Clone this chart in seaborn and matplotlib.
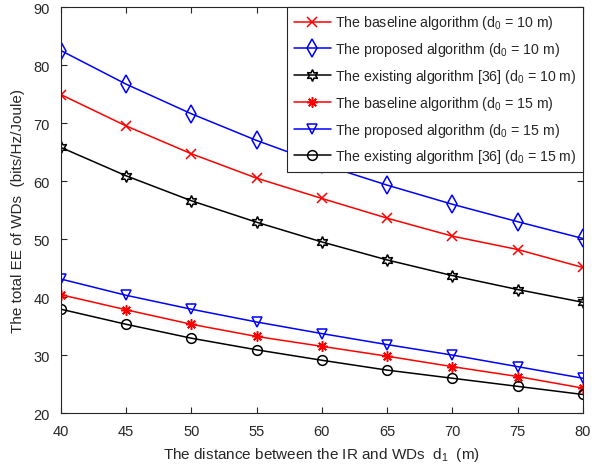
import matplotlib
matplotlib.use("Agg")
import matplotlib.pyplot as plt
import numpy as np
import seaborn as sns

# distance d1 (m)
d1 = [40, 45, 50, 55, 60, 65, 70, 75, 80]

# total EE of WDs (bits/Hz/Joule)
baseline_10 = [74.9, 69.5, 64.7, 60.5, 57.0, 53.6, 50.5, 48.2, 45.1]
proposed_10 = [82.5, 76.7, 71.6, 67.0, 62.9, 59.3, 56.0, 53.0, 50.1]
existing_10 = [65.8, 60.9, 56.6, 52.9, 49.5, 46.4, 43.7, 41.3, 39.1]
baseline_15 = [40.4, 37.8, 35.3, 33.2, 31.5, 29.8, 28.0, 26.3, 24.3]
proposed_15 = [43.1, 40.3, 37.9, 35.7, 33.7, 31.8, 30.0, 28.0, 26.0]
existing_15 = [37.9, 35.3, 32.9, 30.9, 29.1, 27.4, 26.0, 24.6, 23.2]

labels = [
    "The baseline algorithm (d$_0$ = 10 m)",
    "The proposed algorithm (d$_0$ = 10 m)",
    "The existing algorithm [36] (d$_0$ = 10 m)",
    "The baseline algorithm (d$_0$ = 15 m)",
    "The proposed algorithm (d$_0$ = 15 m)",
    "The existing algorithm [36] (d$_0$ = 15 m)",
]

sns.set_style("ticks")
plt.rcParams["font.family"] = ["Liberation Sans", "DejaVu Sans"]
plt.rcParams["mathtext.fontset"] = "custom"
plt.rcParams["mathtext.rm"] = "Liberation Sans"
plt.rcParams["mathtext.it"] = "Liberation Sans"
plt.rcParams["xtick.direction"] = "in"
plt.rcParams["ytick.direction"] = "in"

fig = plt.figure(figsize=(6.04, 4.77), dpi=100)
ax = fig.add_axes([0.101, 0.132, 0.864, 0.851])

series = [baseline_10, proposed_10, existing_10, baseline_15, proposed_15, existing_15]
colors = ["#ff0000", "#0000ff", "#000000", "#ff0000", "#0000ff", "#000000"]
markers = ["x", "d", (6, 1, 0), (8, 2, 0), "v", "o"]
msizes = [7, 9, 8.5, 7.5, 7.5, 7]

for y, lab, c, m, ms in zip(series, labels, colors, markers, msizes):
    sns.lineplot(x=d1, y=y, ax=ax, color=c, marker=m, markersize=ms,
                 mfc="none", mec=c, mew=1.1, lw=1.1, label=lab)

ax.set_xlim(40, 80)
ax.set_ylim(20, 90)
ax.set_xticks(np.arange(40, 81, 5))
ax.set_yticks(np.arange(20, 91, 10))
ax.tick_params(labelsize=10.5, colors="#262626", length=4, top=True, right=True,
               labelcolor="#262626")
ax.tick_params(axis="x", pad=8)
ax.tick_params(axis="y", pad=8)
for sp in ax.spines.values():
    sp.set_visible(True)
    sp.set_color("#262626")
    sp.set_linewidth(0.8)

ax.set_xlabel("The distance between the IR and WDs  d$_1$  (m)", fontsize=11,
              color="#262626", labelpad=5)
ax.set_ylabel("The total EE of WDs  (bits/Hz/Joule)", fontsize=11,
              color="#262626", labelpad=6)

leg = ax.legend(loc="upper right", borderaxespad=0, fontsize=10.2, fancybox=False,
                edgecolor="#262626", framealpha=1, handlelength=2.6,
                handletextpad=0.3, labelspacing=0.62, borderpad=0.45)
leg.get_frame().set_linewidth(0.8)

fig.savefig("out.png", dpi=100)
